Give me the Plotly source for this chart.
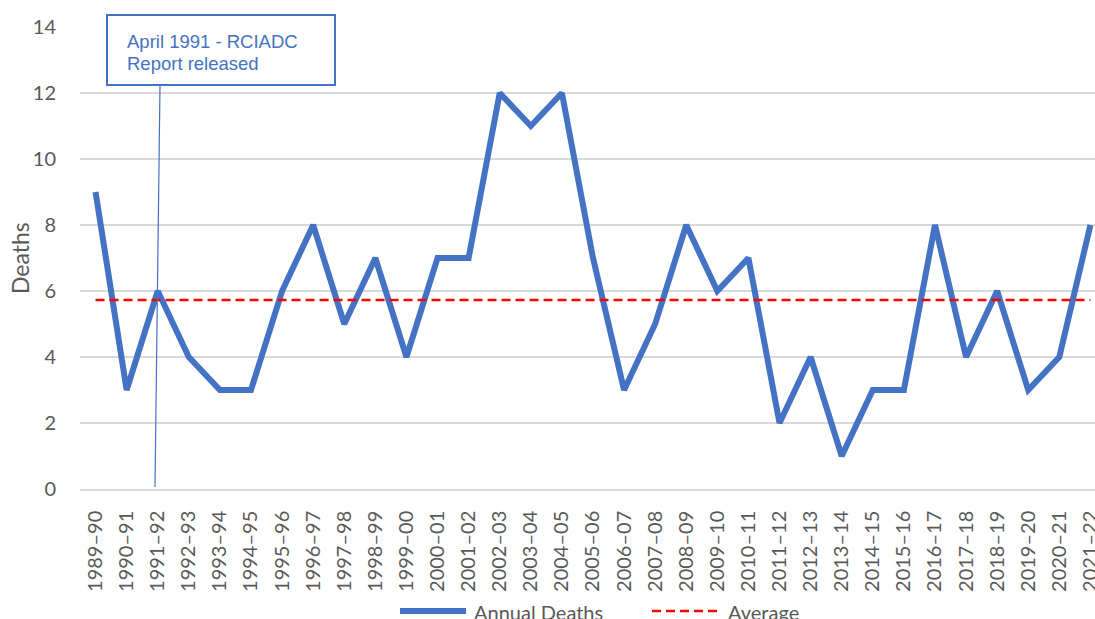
import plotly.graph_objects as go

categories = ["1989–90", "1990–91", "1991–92", "1992–93", "1993–94", "1994–95",
              "1995–96", "1996–97", "1997–98", "1998–99", "1999–00", "2000–01",
              "2001–02", "2002–03", "2003–04", "2004–05", "2005–06", "2006–07",
              "2007–08", "2008–09", "2009–10", "2010–11", "2011–12", "2012–13",
              "2013–14", "2014–15", "2015–16", "2016–17", "2017–18", "2018–19",
              "2019–20", "2020–21", "2021–22"]
annual_deaths = [9, 3, 6, 4, 3, 3, 6, 8, 5, 7, 4, 7, 7, 12, 11, 12, 7, 3, 5, 8,
                 6, 7, 2, 4, 1, 3, 3, 8, 4, 6, 3, 4, 8]
average_value = sum(annual_deaths) / len(annual_deaths)
average = [average_value] * len(categories)
y_ticks = [0, 2, 4, 6, 8, 10, 12, 14]

BLUE = "#4472C4"
RED = "#FF0000"
GREY = "#595959"
GRID = "#D9D9D9"
FONT = "Lato"

fig = go.Figure()
fig.add_trace(go.Scatter(x=categories, y=annual_deaths, mode="lines",
                         name="Annual Deaths",
                         line=dict(color=BLUE, width=6), showlegend=False))
fig.add_trace(go.Scatter(x=categories, y=average, mode="lines", name="Average",
                         line=dict(color=RED, width=2.5, dash="9px,5px"),
                         showlegend=False))

# page body margin is removed (see post_script), figure fills the window
L, T, B = 80, 27, 130
W, H = 1095, 619
pw, ph = W - L, H - T - B


def px_x(X):
    return (X - L) / pw


def px_y(Y):
    return (H - B - Y) / ph


shapes = []
# annotation box + leader line
shapes.append(dict(type="rect", xref="paper", yref="paper",
                   x0=px_x(107), x1=px_x(335), y0=px_y(85), y1=px_y(15),
                   line=dict(color=BLUE, width=2), fillcolor="white", layer="above"))
shapes.append(dict(type="line", xref="paper", yref="paper",
                   x0=px_x(160), x1=px_x(155), y0=px_y(85), y1=px_y(487),
                   line=dict(color=BLUE, width=1.2), layer="above"))
# legend samples
shapes.append(dict(type="line", xref="paper", yref="paper",
                   x0=px_x(400), x1=px_x(466), y0=px_y(611), y1=px_y(611),
                   line=dict(color=BLUE, width=6)))
shapes.append(dict(type="line", xref="paper", yref="paper",
                   x0=px_x(652), x1=px_x(722), y0=px_y(611), y1=px_y(611),
                   line=dict(color=RED, width=2.5, dash="9px,5px")))

box_font = dict(family="Liberation Sans", size=18.5, color=BLUE)
annotations = [
    dict(xref="paper", yref="paper", x=px_x(125), y=px_y(42), xanchor="left",
         yanchor="middle", align="left", showarrow=False,
         text="April 1991 - RCIADC", font=box_font),
    dict(xref="paper", yref="paper", x=px_x(125), y=px_y(63), xanchor="left",
         yanchor="middle", align="left", showarrow=False,
         text="Report released", font=box_font),
    dict(xref="paper", yref="paper", x=px_x(472), y=px_y(612), xanchor="left",
         yanchor="middle", showarrow=False, text="Annual Deaths",
         font=dict(family=FONT, size=20, color=GREY)),
    dict(xref="paper", yref="paper", x=px_x(726), y=px_y(612), xanchor="left",
         yanchor="middle", showarrow=False, text="Average",
         font=dict(family=FONT, size=20, color=GREY)),
    # y-axis title
    dict(xref="paper", yref="paper", x=px_x(20), y=px_y(258), xanchor="center",
         yanchor="middle", showarrow=False, text="Deaths", textangle=-90,
         font=dict(family=FONT, size=23, color=GREY)),
]

fig.update_layout(
    width=W, height=H,
    margin=dict(l=L, r=0, t=T, b=B, autoexpand=False),
    paper_bgcolor="white", plot_bgcolor="white",
    font=dict(family=FONT, color=GREY),
    showlegend=False,
    shapes=shapes, annotations=annotations,
    xaxis=dict(type="category", range=[-0.5, -0.5 + pw / 31.09],
               tickangle=-90, tickfont=dict(size=20, color=GREY),
               showgrid=False, showline=True, linecolor=GRID, linewidth=1.5,
               ticks="", ticklabelstandoff=12, automargin=False, fixedrange=True),
    yaxis=dict(range=[0, 14], tickvals=y_ticks, tickfont=dict(size=20, color=GREY),
               showgrid=True, gridcolor=GRID, gridwidth=1.5, zeroline=False,
               ticks="", ticklabelstandoff=23, automargin=False,
               fixedrange=True),
)

fig.write_html(
    "out.html",
    config={"displayModeBar": False},
    post_script="document.body.style.margin='0';document.body.style.overflow='hidden';",
)
